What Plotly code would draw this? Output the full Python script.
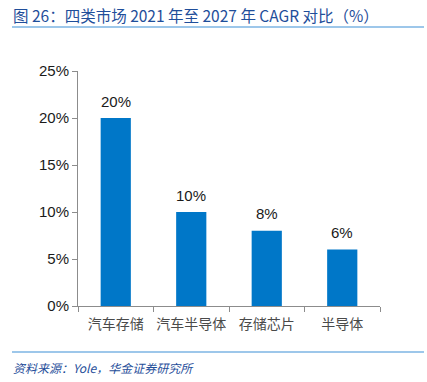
import plotly.graph_objects as go

categories = ["汽车存储", "汽车半导体", "存储芯片", "半导体"]
cagr = [20, 10, 8, 6]
y_ticks = [0, 5, 10, 15, 20, 25]
y_tick_labels = [f"{v}%" for v in y_ticks]

W, H = 427, 382
def px(x): return x / W
def py(y): return 1 - y / H

fig = go.Figure(go.Bar(
    x=categories, y=cagr,
    marker=dict(color="#0077C8", line=dict(width=0)),
    width=0.40,
    hoverinfo="skip",
))

for c, v in zip(categories, cagr):
    fig.add_annotation(x=c, y=v, text=f"{v}%", showarrow=False,
                       yanchor="middle", yshift=17,
                       font=dict(size=15, color="#1A1A1A", family="Arial, Liberation Sans"))

fig.update_layout(
    width=W, height=H,
    margin=dict(l=0, r=0, t=0, b=0),
    paper_bgcolor="white", plot_bgcolor="white",
    showlegend=False,
    font=dict(family="Arial, Liberation Sans, Noto Sans CJK SC"),
    xaxis=dict(domain=[px(78), px(380)], range=[-0.5, 3.5],
               showline=True, linecolor="#8C8C8C", linewidth=1,
               ticks="outside", tickson="boundaries", ticklen=5, tickcolor="#8C8C8C",
               tickangle=0, ticklabelstandoff=5,
               tickfont=dict(size=14, color="#4A4A4A", family="Noto Sans CJK SC"),
               showgrid=False, automargin=False),
    yaxis=dict(domain=[py(306), py(71)], range=[0, 25],
               tickvals=y_ticks, ticktext=y_tick_labels,
               showline=True, linecolor="#8C8C8C", linewidth=1,
               ticks="outside", ticklen=5, tickcolor="#8C8C8C",
               tickfont=dict(size=15, color="#1A1A1A", family="Arial, Liberation Sans"),
               showgrid=False, zeroline=False, automargin=False),
)

fig.add_shape(type="line", xref="paper", yref="paper",
              x0=px(12), x1=px(424), y0=py(27), y1=py(27),
              line=dict(color="#7DB4E3", width=1.5))
fig.add_shape(type="line", xref="paper", yref="paper",
              x0=px(12), x1=px(424), y0=py(352), y1=py(352),
              line=dict(color="#7DB4E3", width=1.5))

fig.add_annotation(xref="paper", yref="paper", x=px(11), y=py(15),
                   xanchor="left", yanchor="middle", showarrow=False,
                   text="图 26：四类市场 2021 年至 2027 年 CAGR 对比（%）",
                   font=dict(size=15.5, color="#1F4E9A", family="Noto Sans CJK SC"))
fig.add_annotation(xref="paper", yref="paper", x=px(11), y=py(367),
                   xanchor="left", yanchor="middle", showarrow=False,
                   text="<i>资料来源：Yole，华金证券研究所</i>",
                   font=dict(size=12, color="#1F4E9A", family="Noto Sans CJK SC"))

fig.write_html("out.html", config={"displayModeBar": False},
               post_script="document.body.style.margin='0';")
